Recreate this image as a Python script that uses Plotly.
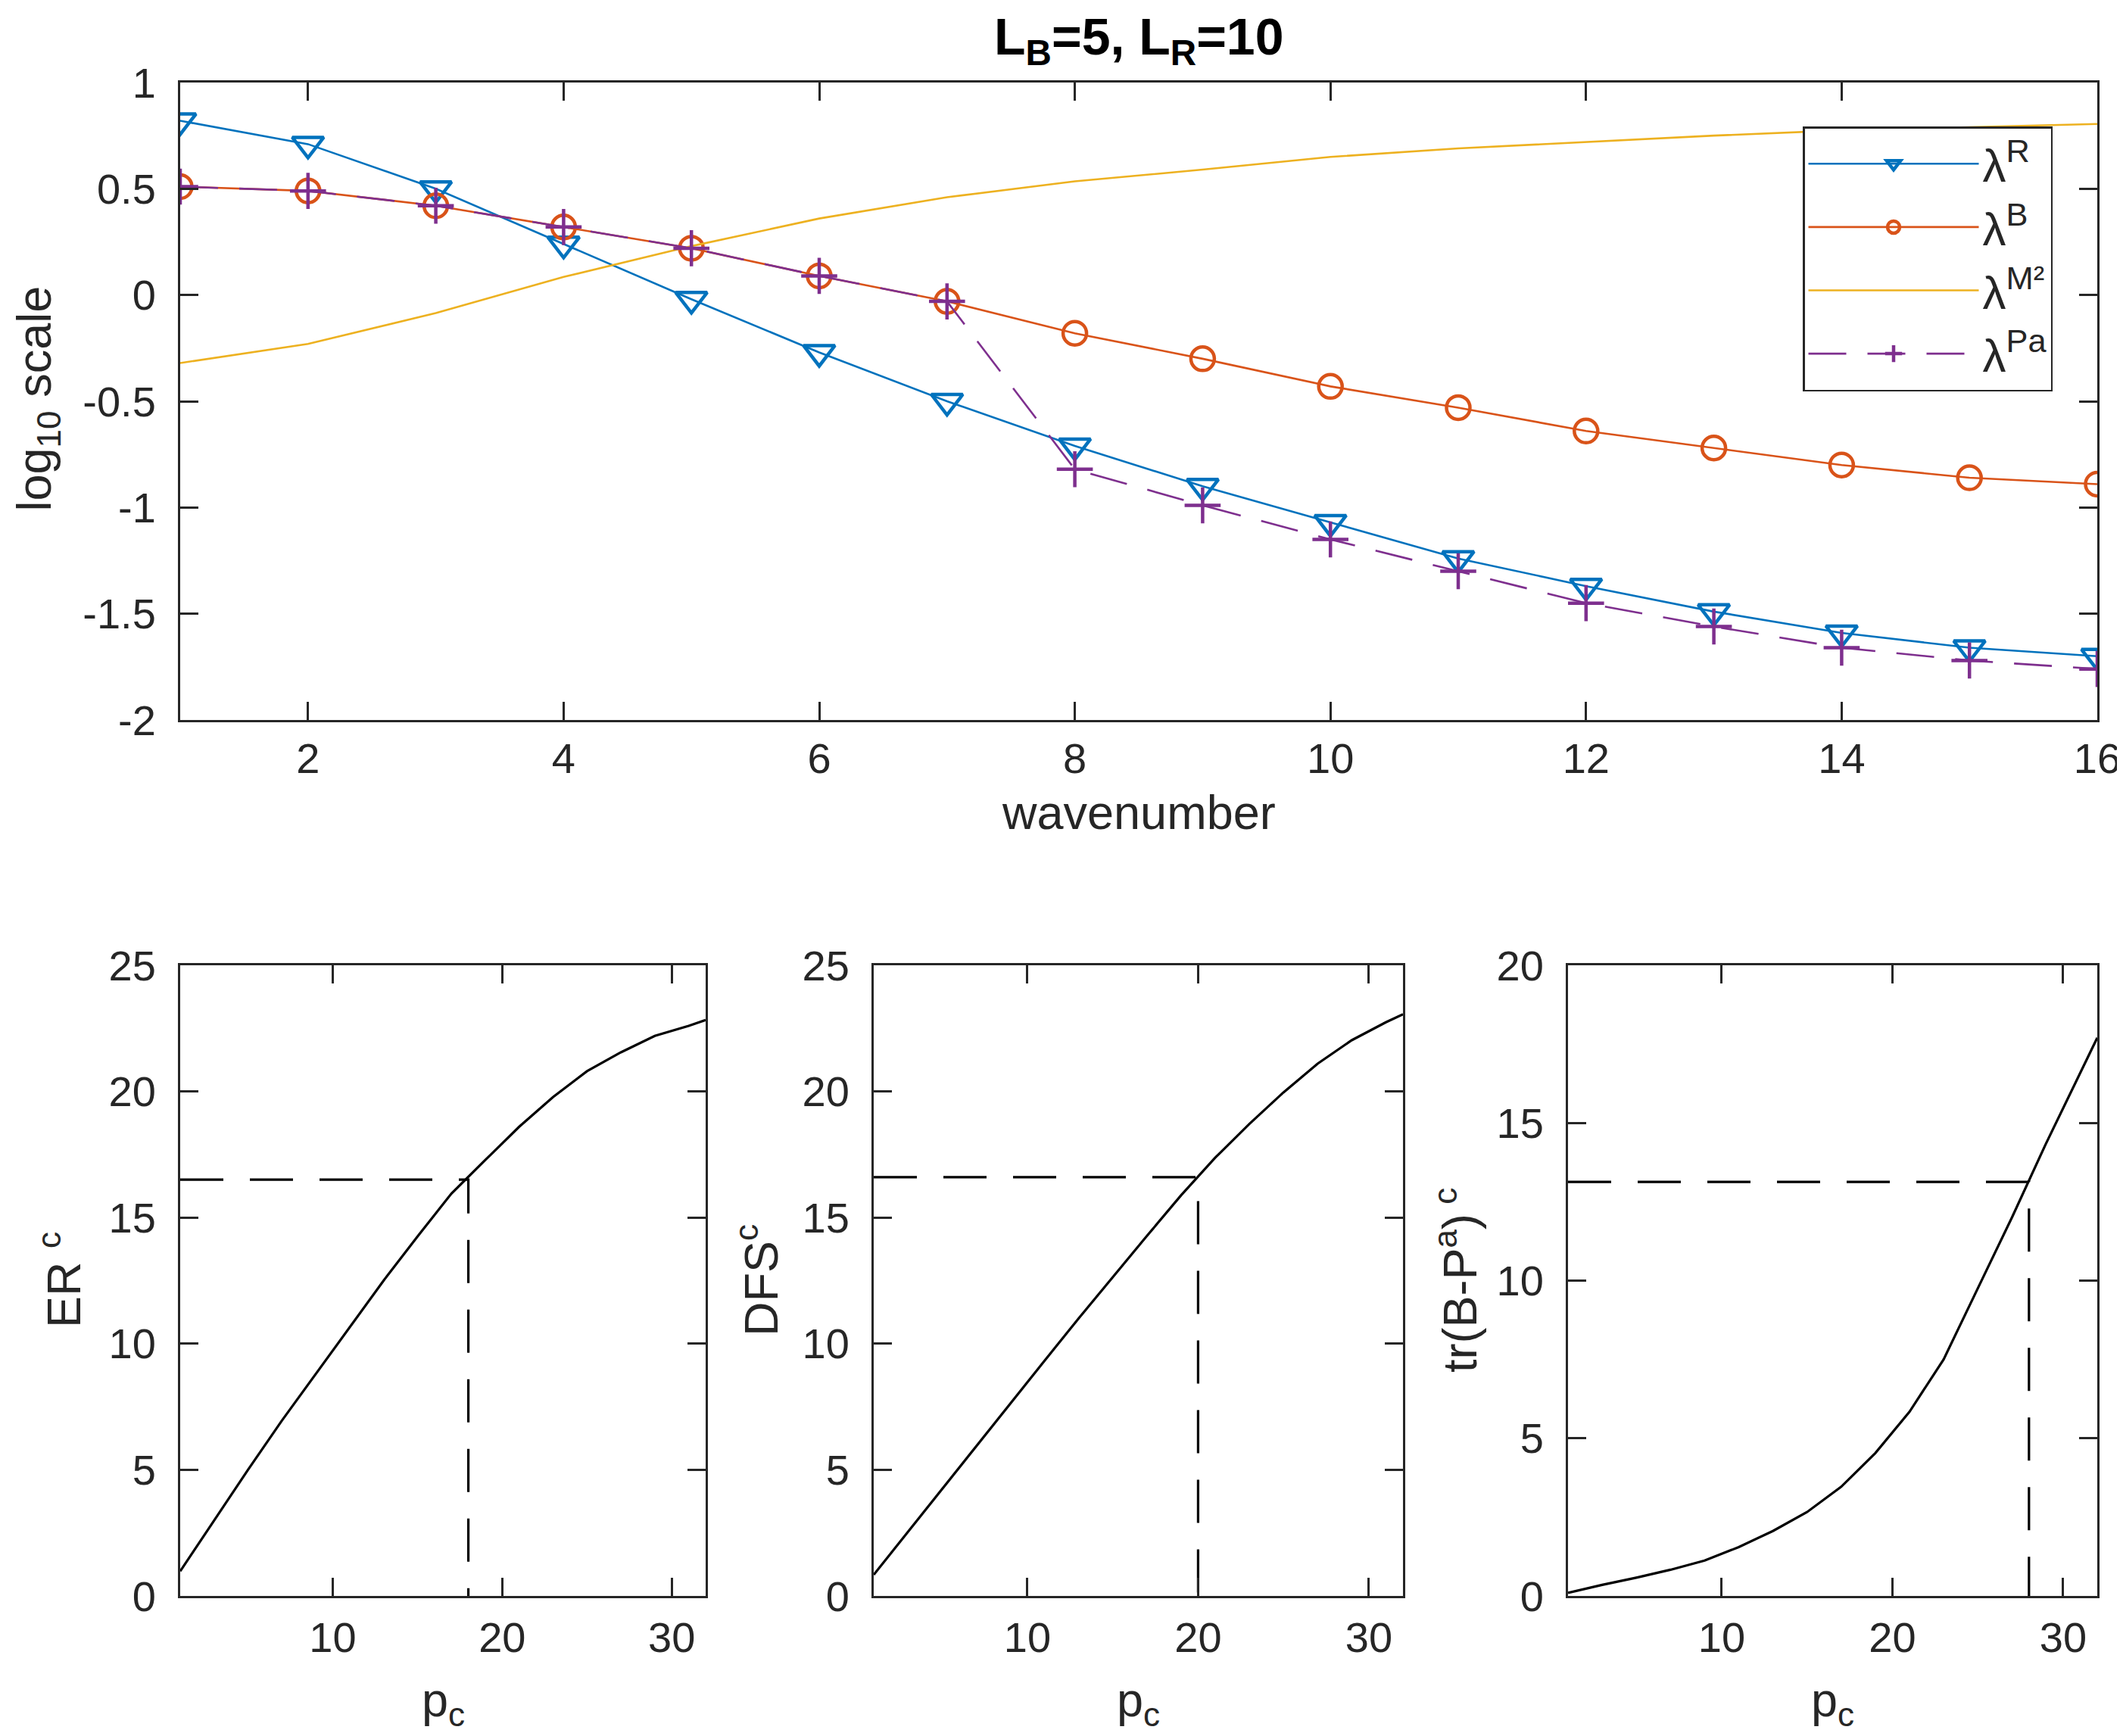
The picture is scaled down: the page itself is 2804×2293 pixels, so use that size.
import plotly.graph_objects as go

# ---------------- data ----------------
wavenumber = list(range(1, 17))
lam_R = [0.82, 0.71, 0.50, 0.24, -0.02, -0.27, -0.50, -0.71, -0.90, -1.07,
         -1.24, -1.37, -1.49, -1.59, -1.66, -1.70]
lam_B = [0.51, 0.49, 0.42, 0.32, 0.22, 0.09, -0.03, -0.18, -0.30, -0.43,
         -0.53, -0.64, -0.72, -0.80, -0.86, -0.89]
lam_M2 = [-0.32, -0.23, -0.085, 0.085, 0.23, 0.36, 0.46, 0.535, 0.59, 0.65,
          0.69, 0.72, 0.75, 0.775, 0.79, 0.805]
lam_Pa = [0.51, 0.49, 0.42, 0.32, 0.22, 0.09, -0.03, -0.82, -0.99, -1.15,
          -1.30, -1.45, -1.56, -1.66, -1.72, -1.76]

pc = [1, 3, 5, 7, 9, 11, 13, 15, 17, 19, 21, 23, 25, 27, 29, 31, 32]
ER_c = [0.98, 3.0, 5.0, 6.95, 8.8, 10.65, 12.5, 14.25, 15.95, 17.28, 18.6,
        19.78, 20.8, 21.55, 22.2, 22.6, 22.83]
DFS_c = [0.84, 2.54, 4.23, 5.93, 7.62, 9.32, 11.0, 12.65, 14.27, 15.88, 17.37,
         18.71, 19.96, 21.10, 22.03, 22.74, 23.06]
TR_c = [0.1, 0.35, 0.58, 0.83, 1.12, 1.55, 2.06, 2.66, 3.46, 4.53, 5.84,
        7.5, 9.75, 12.0, 14.35, 16.6, 17.7]

# selected thresholds (pc*, value*)
ER_sel = (18, 16.5)
DFS_sel = (20, 16.6)
TR_sel = (28, 13.13)

top_xticks = [2, 4, 6, 8, 10, 12, 14, 16]
top_yticks = [-2, -1.5, -1, -0.5, 0, 0.5, 1]
top_yticklabels = ["-2", "-1.5", "-1", "-0.5", "0", "0.5", "1"]
bot_xticks = [10, 20, 30]
bot_yticks_25 = [0, 5, 10, 15, 20, 25]
bot_yticks_20 = [0, 5, 10, 15, 20]

# ---------------- styling ----------------
PAGE_W, PAGE_H = 2804, 2293
OFF = 8                      # default page margin around the plot div
W, H = PAGE_W - OFF, PAGE_H - OFF
FONT = "Liberation Sans, Arial, Helvetica, sans-serif"
AX = "#262626"
TICKF = 56
LABF = 63

def fx(p):
    return (p - OFF) / W

def fy(p):
    return 1 - (p - OFF) / H

def px_x(a, b):
    return [fx(a), fx(b)]

def px_y(top, bottom):
    return [fy(bottom), fy(top)]

fig = go.Figure()

blue, red, yellow, purple = "#0072BD", "#D95319", "#EDB120", "#7E2F8E"

fig.add_trace(go.Scatter(x=wavenumber, y=lam_R, mode="lines+markers", name="λ<sup>R</sup>",
                         line=dict(color=blue, width=2.6),
                         marker=dict(symbol="triangle-down-open", size=36, color=blue,
                                     line=dict(width=4.5, color=blue)),
                         xaxis="x", yaxis="y"))
fig.add_trace(go.Scatter(x=wavenumber, y=lam_B, mode="lines+markers", name="λ<sup>B</sup>",
                         line=dict(color=red, width=2.6),
                         marker=dict(symbol="circle-open", size=31, color=red,
                                     line=dict(width=4.5, color=red)),
                         xaxis="x", yaxis="y"))
fig.add_trace(go.Scatter(x=wavenumber, y=lam_M2, mode="lines", name="λ<sup>M²</sup>",
                         line=dict(color=yellow, width=2.6),
                         xaxis="x", yaxis="y"))
fig.add_trace(go.Scatter(x=wavenumber, y=lam_Pa, mode="lines+markers", name="λ<sup>Pa</sup>",
                         line=dict(color=purple, width=2.6, dash="50px,28px"),
                         marker=dict(symbol="cross-thin-open", size=34, color=purple,
                                     line=dict(width=4.5, color=purple)),
                         xaxis="x", yaxis="y"))

bottom = [("x2", "y2", ER_c, ER_sel), ("x3", "y3", DFS_c, DFS_sel), ("x4", "y4", TR_c, TR_sel)]
for xa, ya, vals, (ps, vs) in bottom:
    fig.add_trace(go.Scatter(x=pc, y=vals, mode="lines", showlegend=False,
                             line=dict(color="black", width=3.2), xaxis=xa, yaxis=ya))
    fig.add_trace(go.Scatter(x=[pc[0], ps, ps], y=[vs, vs, 0], mode="lines", showlegend=False,
                             line=dict(color="black", width=3.2, dash="57px,35px"),
                             xaxis=xa, yaxis=ya))

common = dict(showline=True, linecolor=AX, linewidth=3, mirror="ticks", ticks="inside",
              ticklen=24, tickwidth=3, tickcolor=AX, showgrid=False, zeroline=False,
              automargin=False, ticklabeloverflow="allow",
              tickfont=dict(family=FONT, size=TICKF, color=AX))

top_dom_x = px_x(238, 2770)
bot_dom_y = px_y(1275, 2108)

fig.update_layout(
    width=W, height=H, margin=dict(l=0, r=0, t=0, b=0, autoexpand=False),
    paper_bgcolor="white", plot_bgcolor="white",
    font=dict(family=FONT, color=AX),
    xaxis=dict(domain=top_dom_x, range=[1, 16], tickvals=top_xticks, anchor="y",
               ticklabelstandoff=0, **common),
    yaxis=dict(domain=px_y(109, 951), range=[-2, 1], tickvals=top_yticks,
               ticktext=top_yticklabels, anchor="x", ticklabelstandoff=18, **common),
    xaxis2=dict(domain=px_x(238, 932), range=[1, 32], tickvals=bot_xticks, anchor="y2",
                ticklabelstandoff=4, **common),
    yaxis2=dict(domain=bot_dom_y, range=[0, 25], tickvals=bot_yticks_25, anchor="x2",
                ticklabelstandoff=18, **common),
    xaxis3=dict(domain=px_x(1154, 1853), range=[1, 32], tickvals=bot_xticks, anchor="y3",
                ticklabelstandoff=4, **common),
    yaxis3=dict(domain=bot_dom_y, range=[0, 25], tickvals=bot_yticks_25, anchor="x3",
                ticklabelstandoff=18, **common),
    xaxis4=dict(domain=px_x(2071, 2770), range=[1, 32], tickvals=bot_xticks, anchor="y4",
                ticklabelstandoff=4, **common),
    yaxis4=dict(domain=bot_dom_y, range=[0, 20], tickvals=bot_yticks_20, anchor="x4",
                ticklabelstandoff=18, **common),
    legend=dict(x=fx(2711), y=fy(167), xanchor="right", yanchor="top",
                bgcolor="white", bordercolor=AX, borderwidth=2.5,
                font=dict(family=FONT, size=62, color=AX),
                itemwidth=225, tracegroupgap=0, itemsizing="trace"),
    showlegend=True,
)

ann = []
def label(text, x, y, size=LABF, angle=0, bold=False, xanchor="center", yanchor="middle"):
    ann.append(dict(text=f"<b>{text}</b>" if bold else text, x=fx(x), y=fy(y),
                    xref="paper", yref="paper", showarrow=False, textangle=angle,
                    xanchor=xanchor, yanchor=yanchor,
                    font=dict(family=FONT, size=size, color="black" if bold else AX)))

label("L<sub>B</sub>=5, L<sub>R</sub>=10", 1504, OFF, size=68, bold=True, yanchor="top")
label("wavenumber", 1504, 1073)
label("log<sub>10</sub> scale", OFF, 527, angle=-90, xanchor="left")
label("p<sub>c</sub>", 585, PAGE_H - 2, yanchor="bottom")
label("p<sub>c</sub>", 1503, PAGE_H - 2, yanchor="bottom")
label("p<sub>c</sub>", 2420, PAGE_H - 2, yanchor="bottom")
label("ER <sup>c</sup>", 79, 1691, angle=-90)
label("DFS<sup>c</sup>", 1000, 1691, angle=-90)
label("tr(B-P<sup>a</sup>)<sup> c</sup>", 1923, 1691, angle=-90)
fig.update_layout(annotations=ann)

fig.write_html("out.html")
